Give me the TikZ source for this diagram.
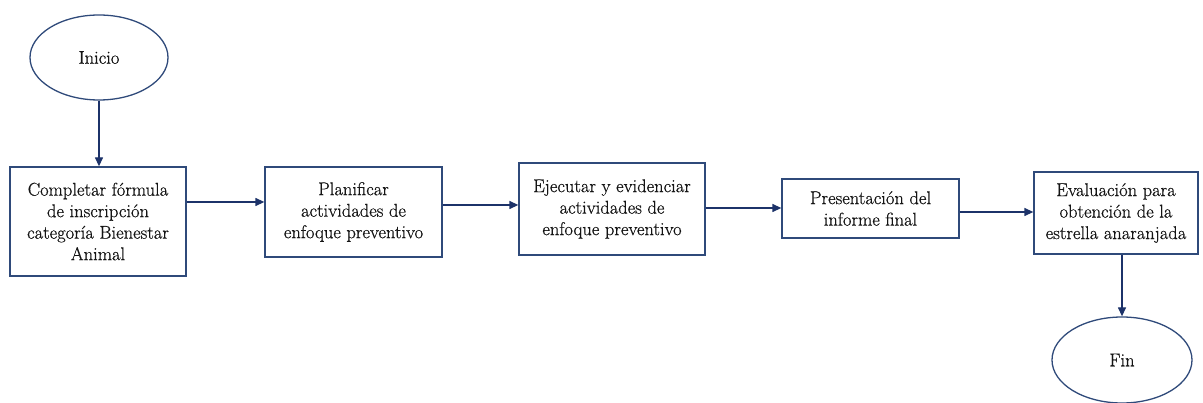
\documentclass[tikz,border=0pt]{standalone}
\usepackage{fontspec}
\setmainfont{Latin Modern Roman}[FakeBold=0.6]
\usetikzlibrary{shapes.geometric,arrows.meta}
\definecolor{boxc}{RGB}{47,74,122}
\definecolor{arrc}{RGB}{28,50,105}
\definecolor{txtc}{RGB}{20,20,20}
\tikzset{
  txt/.style={font=\fontsize{18.5}{21.5}\selectfont, text=txtc},
  stepbox/.style={draw=boxc, line width=1.3pt, align=center, inner sep=2pt, txt},
  term/.style={draw=boxc, line width=1.3pt, ellipse, inner sep=0pt, txt},
  arr/.style={draw=arrc, line width=1.3pt, -{Triangle[length=9pt,width=8pt]}}
}
\begin{document}
\begin{tikzpicture}[x=1pt,y=-1pt]
\useasboundingbox (0,0) rectangle (1203,403);
\node[term, minimum width=138pt, minimum height=85pt] (ini) at (99,57.5) {Inicio};
\node[stepbox, minimum width=176pt, minimum height=109pt] (b1) at (98,221.5)
  {Completar fórmula\\de inscripción\\categoría Bienestar\\Animal};
\node[stepbox, minimum width=177pt, minimum height=90pt] (b2) at (353.5,212)
  {Planificar\\actividades de\\enfoque preventivo};
\node[stepbox, minimum width=186pt, minimum height=92pt] (b3) at (612,209)
  {Ejecutar y evidenciar\\actividades de\\enfoque preventivo};
\node[stepbox, minimum width=177pt, minimum height=59pt] (b4) at (870.5,208.5)
  {Presentación del\\informe final};
\node[stepbox, minimum width=164pt, minimum height=82pt] (b5) at (1116,213)
  {Evaluación para\\obtención de la\\estrella anaranjada};
\node[term, minimum width=140pt, minimum height=86pt] (fin) at (1122,360) {Fin};
\coordinate (y12) at (0,202);
\coordinate (y23) at (0,205);
\coordinate (y34) at (0,208);
\coordinate (y45) at (0,212);
\coordinate (x5) at (1122,0);
\draw[arr] (ini.south) -- (b1.north -| ini.south);
\draw[arr] (b1.east |- y12) -- (b2.west |- y12);
\draw[arr] (b2.east |- y23) -- (b3.west |- y23);
\draw[arr] (b3.east |- y34) -- (b4.west |- y34);
\draw[arr] (b4.east |- y45) -- (b5.west |- y45);
\draw[arr] (b5.south -| x5) -- (fin.north);
\end{tikzpicture}
\end{document}
